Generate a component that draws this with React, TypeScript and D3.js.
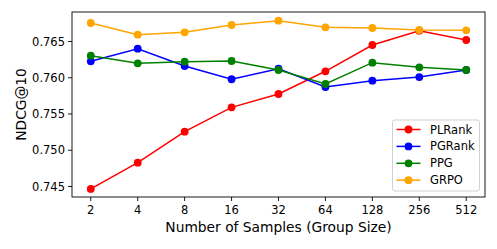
import React from "react";
import * as d3 from "d3";

const categories = ["2", "4", "8", "16", "32", "64", "128", "256", "512"];
const plrank = [0.74466, 0.74829, 0.75256, 0.75592, 0.75776, 0.76089, 0.76452, 0.76649, 0.76521];
const pgrank = [0.76227, 0.76401, 0.76162, 0.75979, 0.76125, 0.75872, 0.75959, 0.7601, 0.76107];
const ppg = [0.76304, 0.76199, 0.76221, 0.76231, 0.76107, 0.75914, 0.76208, 0.76144, 0.76107];
const grpo = [0.76755, 0.76594, 0.76627, 0.76728, 0.76787, 0.76696, 0.76686, 0.76659, 0.76654];
const yTicks = [0.745, 0.75, 0.755, 0.76, 0.765];

const seriesList = [
  { name: "PLRank", values: plrank, color: "red" },
  { name: "PGRank", values: pgrank, color: "blue" },
  { name: "PPG", values: ppg, color: "green" },
  { name: "GRPO", values: grpo, color: "orange" },
];

const W = 497, H = 249;
const L = 72, R = 485, T = 12, B = 197;
const FONT = "DejaVu Sans, sans-serif";
const FS = 11.5;
const LFS = 13.8;

export default function App() {
  const x = d3.scaleLinear().domain([-0.4, categories.length - 1 + 0.4]).range([L, R]);
  const y = d3.scaleLinear().domain([0.74355, 0.76907]).range([B, T]);
  const line = d3.line<number>().x((_, i) => x(i)).y((d) => y(d));
  const legX = 392.5, legY = 120, legW = 87, legH = 71;
  return (
    <svg width={W} height={H} style={{ position: "absolute", left: 0, top: 0, background: "white" }} fontFamily={FONT}>
      {seriesList.map((s) => (
        <g key={s.name}>
          <path d={line(s.values) || ""} fill="none" stroke={s.color} strokeWidth={1.5} />
          {s.values.map((v, i) => (
            <circle key={i} cx={x(i)} cy={y(v)} r={3.9} fill={s.color} />
          ))}
        </g>
      ))}
      <rect x={L} y={T} width={R - L} height={B - T} fill="none" stroke="black" strokeWidth={0.9} />
      {categories.map((c, i) => (
        <g key={c}>
          <line x1={x(i)} x2={x(i)} y1={B} y2={B + 4} stroke="black" strokeWidth={0.9} />
          <text x={x(i)} y={B + 17} textAnchor="middle" fontSize={FS}>{c}</text>
        </g>
      ))}
      {yTicks.map((t) => (
        <g key={t}>
          <line x1={L - 4} x2={L} y1={y(t)} y2={y(t)} stroke="black" strokeWidth={0.9} />
          <text x={L - 7} y={y(t)} dy="0.35em" textAnchor="end" fontSize={FS}>{t.toFixed(3)}</text>
        </g>
      ))}
      <text x={(L + R) / 2} y={231.5} textAnchor="middle" fontSize={LFS}>Number of Samples (Group Size)</text>
      <text transform={`translate(25.5,${(T + B) / 2}) rotate(-90)`} textAnchor="middle" fontSize={LFS}>NDCG@10</text>
      <rect x={legX} y={legY} width={legW} height={legH} rx={2.5} fill="white" fillOpacity={0.8} stroke="#cccccc" strokeWidth={0.9} />
      {seriesList.map((s, i) => {
        const yy = legY + 9.5 + i * 16.9;
        return (
          <g key={s.name}>
            <line x1={legX + 4} x2={legX + 28} y1={yy} y2={yy} stroke={s.color} strokeWidth={1.5} />
            <circle cx={legX + 16} cy={yy} r={3.9} fill={s.color} />
            <text x={legX + 37.5} y={yy} dy="0.35em" fontSize={FS}>{s.name}</text>
          </g>
        );
      })}
    </svg>
  );
}
